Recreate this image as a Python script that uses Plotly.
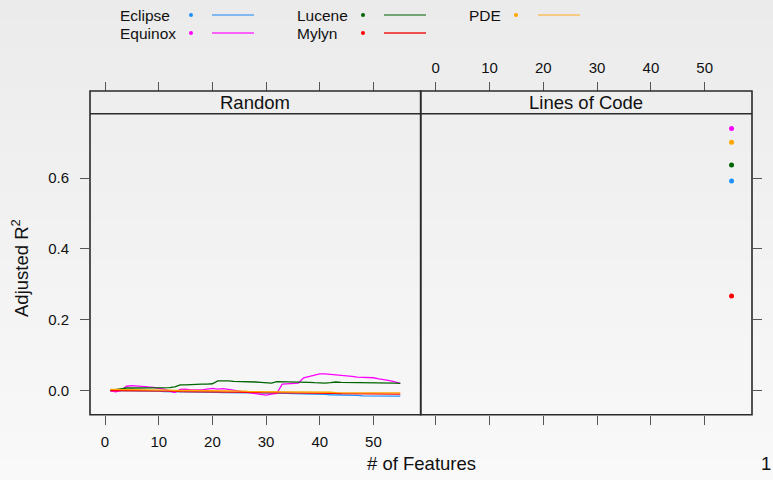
import plotly.graph_objects as go

# ---------------- data ----------------
projects = ["Eclipse", "Equinox", "Lucene", "Mylyn", "PDE"]
colors = ["#1E90FF", "#FF00FF", "#006400", "#FF0000", "#FFA500"]
legend_line_colors = ["#5DA9F3", "#FF33FF", "#4C8C4C", "#F21818", "#F9C060"]
panels = ["Random", "Lines of Code"]
n_features = list(range(1, 56))

eclipse_random = [0.000, 0.000, -0.001, -0.001, -0.001, -0.001, -0.002, -0.002, -0.002, -0.002,
                  -0.003, -0.003, -0.003, -0.004, -0.004, -0.004, -0.004, -0.005, -0.005, -0.005,
                  -0.005, -0.006, -0.006, -0.006, -0.006, -0.007, -0.007, -0.007, -0.007, -0.007,
                  -0.008, -0.008, -0.008, -0.008, -0.009, -0.009, -0.009, -0.010, -0.010, -0.011,
                  -0.011, -0.012, -0.012, -0.013, -0.013, -0.014, -0.014, -0.015, -0.015, -0.015,
                  -0.016, -0.016, -0.016, -0.016, -0.016]
equinox_random = [-0.001, -0.004, 0.000, 0.012, 0.014, 0.012, 0.011, 0.010, 0.009, 0.007,
                  0.004, -0.002, -0.006, 0.003, 0.004, 0.002, 0.001, 0.002, 0.004, 0.006,
                  0.004, 0.005, 0.003, 0.000, -0.002, -0.005, -0.007, -0.009, -0.012, -0.013,
                  -0.010, -0.008, 0.018, 0.019, 0.020, 0.021, 0.036, 0.040, 0.044, 0.047,
                  0.047, 0.046, 0.045, 0.044, 0.042, 0.040, 0.038, 0.038, 0.038, 0.036,
                  0.033, 0.031, 0.028, 0.024, 0.020]
lucene_random = [0.000, 0.003, 0.006, 0.007, 0.007, 0.007, 0.008, 0.009, 0.009, 0.009,
                 0.008, 0.008, 0.010, 0.016, 0.016, 0.017, 0.019, 0.018, 0.018, 0.019,
                 0.027, 0.028, 0.027, 0.026, 0.026, 0.025, 0.025, 0.024, 0.023, 0.022,
                 0.021, 0.025, 0.025, 0.025, 0.024, 0.024, 0.023, 0.023, 0.022, 0.021,
                 0.021, 0.022, 0.024, 0.023, 0.023, 0.023, 0.023, 0.023, 0.023, 0.022,
                 0.022, 0.022, 0.022, 0.021, 0.020]
mylyn_random = [0.000, 0.000, 0.000, -0.001, -0.001, -0.001, -0.001, -0.001, -0.002, -0.002,
                -0.002, -0.002, -0.002, -0.003, -0.003, -0.003, -0.003, -0.003, -0.004, -0.004,
                -0.004, -0.004, -0.004, -0.005, -0.005, -0.005, -0.005, -0.005, -0.006, -0.006,
                -0.006, -0.006, -0.006, -0.007, -0.007, -0.007, -0.007, -0.007, -0.008, -0.008,
                -0.008, -0.008, -0.008, -0.009, -0.009, -0.009, -0.009, -0.009, -0.009, -0.010,
                -0.010, -0.010, -0.010, -0.010, -0.010]
pde_random = [0.003, 0.003, 0.003, 0.002, 0.002, 0.002, 0.002, 0.001, 0.001, 0.001,
              0.001, 0.001, 0.000, 0.001, 0.000, 0.000, 0.000, -0.001, -0.001, -0.001,
              -0.001, -0.001, -0.002, -0.002, -0.002, -0.002, -0.003, -0.003, -0.003, -0.003,
              -0.003, -0.004, -0.004, -0.004, -0.003, -0.004, -0.004, -0.004, -0.005, -0.005,
              -0.005, -0.005, -0.006, -0.006, -0.006, -0.006, -0.006, -0.007, -0.006, -0.007,
              -0.007, -0.007, -0.007, -0.007, -0.007]
random_series = [eclipse_random, equinox_random, lucene_random, mylyn_random, pde_random]

loc_x = 55
loc_values = [0.592, 0.740, 0.637, 0.267, 0.701]

x_ticks = [0, 10, 20, 30, 40, 50]
y_ticks = [0.0, 0.2, 0.4, 0.6]
y_ticklabels = ["0.0", "0.2", "0.4", "0.6"]

# ---------------- layout geometry (pixels) ----------------
W, H = 773, 480
left_x0, mid_x, right_x1 = 90, 420.7, 752
strip_top, strip_bot, panel_bot = 91, 113.7, 414.7
xr = [-2.8, 58.8]
yr = [-0.0684, 0.782]

def px(x):
    return x / W

def py(y):
    return 1 - y / H

FONT = "Liberation Sans, Arial, Helvetica, sans-serif"
DARK = "#2a2a2a"
TICK = "#555555"

fig = go.Figure()

for name, col, vals in zip(projects, colors, random_series):
    fig.add_trace(go.Scatter(x=n_features, y=vals, mode="lines", name=name,
                             line=dict(color=col, width=1.3), xaxis="x", yaxis="y",
                             showlegend=False))
for name, col, v in zip(projects, colors, loc_values):
    fig.add_trace(go.Scatter(x=[loc_x], y=[v], mode="markers", name=name,
                             marker=dict(color=col, size=5), xaxis="x2", yaxis="y2",
                             showlegend=False))
# invisible carriers so the top tick axes get drawn
fig.add_trace(go.Scatter(x=[loc_x], y=[loc_values[0]], mode="markers", marker=dict(opacity=0),
                         xaxis="x3", yaxis="y", hoverinfo="skip", showlegend=False))
fig.add_trace(go.Scatter(x=[loc_x], y=[loc_values[0]], mode="markers", marker=dict(opacity=0),
                         xaxis="x4", yaxis="y2", hoverinfo="skip", showlegend=False))

tick_common = dict(range=xr, tickvals=x_ticks, ticks="outside", ticklen=9,
                   tickcolor=TICK, tickwidth=1.3, showgrid=False, zeroline=False,
                   showline=False, automargin=False,
                   tickfont=dict(family=FONT, size=15, color="#111"))

ydom = [py(panel_bot), py(strip_bot)]
fig.update_layout(
    width=W, height=H, margin=dict(l=0, r=0, t=0, b=0),
    paper_bgcolor="#eeeeee", plot_bgcolor="rgba(0,0,0,0)",
    showlegend=False,
    xaxis=dict(domain=[px(left_x0), px(mid_x)], anchor="y", ticklabelstandoff=4, **tick_common),
    xaxis2=dict(domain=[px(mid_x), px(right_x1)], anchor="y2", showticklabels=False, **tick_common),
    xaxis3=dict(overlaying="x", side="top", anchor="free", position=py(strip_top),
                showticklabels=False, **tick_common),
    xaxis4=dict(overlaying="x2", side="top", anchor="free", position=py(strip_top),
                ticklabelstandoff=3, **tick_common),
    yaxis=dict(domain=ydom, anchor="x", range=yr, tickvals=y_ticks, ticktext=y_ticklabels,
               ticks="outside", ticklen=9, tickcolor=TICK, tickwidth=1.3, showgrid=False,
               zeroline=False, showline=False, automargin=False, ticklabelstandoff=8,
               tickfont=dict(family=FONT, size=15, color="#111")),
    yaxis2=dict(domain=ydom, anchor="x2", side="right", range=yr, tickvals=y_ticks,
                showticklabels=False, ticks="outside", ticklen=9, tickcolor=TICK,
                tickwidth=1.3, showgrid=False, zeroline=False, showline=False,
                automargin=False),
)

shapes = []
# vertical gradient background
nb = 48
for i in range(nb):
    c = round(235 + 14 * (i + 0.5) / nb)
    shapes.append(dict(type="rect", xref="paper", yref="paper", x0=0, x1=1,
                       y0=1 - (i + 1) / nb, y1=1 - i / nb, layer="below",
                       fillcolor=f"rgb({c},{c},{c})", line=dict(width=0)))
# panel + strip borders
for x0, x1 in [(left_x0, mid_x), (mid_x, right_x1)]:
    shapes.append(dict(type="rect", xref="paper", yref="paper", x0=px(x0), x1=px(x1),
                       y0=py(panel_bot), y1=py(strip_top), line=dict(color=DARK, width=1.6)))
    shapes.append(dict(type="line", xref="paper", yref="paper", x0=px(x0), x1=px(x1),
                       y0=py(strip_bot), y1=py(strip_bot), line=dict(color=DARK, width=1.6)))

def ann(text, x, y, size, **kw):
    d = dict(text=text, x=px(x), y=py(y), xref="paper", yref="paper", showarrow=False,
             xanchor="center", yanchor="middle",
             font=dict(family=FONT, size=size, color="#111"))
    d.update(kw)
    return d

annotations = []
for label, (x0, x1) in zip(panels, [(left_x0, mid_x), (mid_x, right_x1)]):
    annotations.append(ann(label, (x0 + x1) / 2, (strip_top + strip_bot) / 2 + 0.5, 18.5))

# legend (3 columns, column-major)
col_text_x = [118, 295, 467]
col_dot_x = [191, 363, 516]
col_line_x = [(212, 254), (384, 426), (538, 580)]
row_y = [15, 33]
for i, (name, col, lcol) in enumerate(zip(projects, colors, legend_line_colors)):
    c, r = divmod(i, 2)
    yy = row_y[r]
    annotations.append(ann(name, col_text_x[c], yy + 1, 15.5, xanchor="left"))
    shapes.append(dict(type="circle", xref="paper", yref="paper",
                       x0=px(col_dot_x[c] - 2), x1=px(col_dot_x[c] + 2),
                       y0=py(yy + 2), y1=py(yy - 2), fillcolor=col, line=dict(width=0)))
    shapes.append(dict(type="line", xref="paper", yref="paper",
                       x0=px(col_line_x[c][0]), x1=px(col_line_x[c][1]),
                       y0=py(yy), y1=py(yy), line=dict(color=lcol, width=1.4)))

annotations.append(ann("# of Features", (left_x0 + right_x1) / 2, 463, 18.5))
annotations.append(ann("Adjusted R<sup>2</sup>", 20, 268, 18.5, textangle=-90))
annotations.append(ann("1", 766, 463, 18.5))

fig.update_layout(shapes=shapes, annotations=annotations)
fig.write_html("out.html")
